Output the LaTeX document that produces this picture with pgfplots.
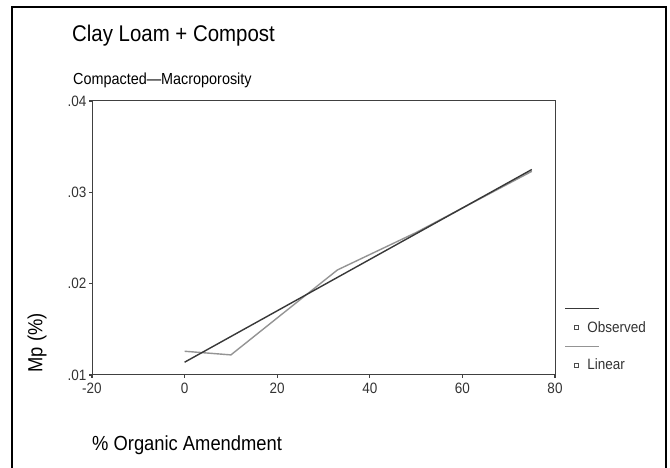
\documentclass[border=0pt]{standalone}
\usepackage{fontspec}
\setmainfont{Liberation Sans}[FakeStretch=0.9]
\usepackage{pgfplots}
\pgfplotsset{compat=1.18}
\definecolor{obsGray}{gray}{0.58}
\definecolor{fitDark}{gray}{0.22}
\definecolor{frameGray}{gray}{0.25}

\begin{document}
\begin{tikzpicture}[x=1pt,y=1pt]
    \path[use as bounding box, fill=white] (0,0) rectangle (670,468);
    % outer frame, open at the bottom
    \draw[line width=1.5pt] (12,-5) -- (12,461) -- (666,461) -- (666,-5);

    \node[anchor=base west, inner sep=0, font=\fontsize{22.7}{26}\selectfont] at (72,426) {Clay Loam + Compost};
    \node[anchor=base west, inner sep=0, font=\fontsize{16}{19}\selectfont] at (73,383) {Compacted---Macroporosity};
    \node[anchor=base west, inner sep=0, font=\fontsize{20.4}{24}\selectfont] at (92,17) {\% Organic Amendment};
    \node[rotate=90, inner sep=0, font=\fontsize{20.4}{24}\selectfont] at (37,125) {Mp (\%)};

    \begin{axis}[
        at={(92pt,93pt)}, anchor=south west,
        scale only axis,
        width=463pt, height=274pt,
        xmin=-20, xmax=80,
        ymin=0.01, ymax=0.04,
        xtick={-20,0,20,40,60,80},
        ytick={0.01,0.02,0.03,0.04},
        yticklabels={.01,.02,.03,.04},
        scaled y ticks=false,
        xtick pos=bottom, ytick pos=left,
        tick align=outside,
        major tick length=3pt,
        every tick/.style={frameGray, line width=1.3pt},
        axis line style={frameGray, line width=1pt},
        /pgf/number format/assume math mode=true,
        tick label style={font=\fontsize{15}{18}\selectfont, text=black!80},
        xticklabel style={yshift=-1pt},
        yticklabel style={xshift=1pt},
        legend style={at={(1.022,0.275)}, anchor=north west, draw=none, fill=none,
            inner sep=0pt, row sep=1.5pt,
            font=\fontsize{15}{18}\selectfont, text=black!80},
        legend cell align=left,
    ]
        % observed values
        \addplot[obsGray, line width=1.4pt, forget plot] coordinates {
            (0,0.0126) (10,0.0122) (33,0.0215) (50,0.0256) (75,0.0323)
        };
        % linear fit
        \addplot[fitDark, line width=1.4pt, forget plot] coordinates {
            (0,0.0114) (75,0.0325)
        };

        \addlegendimage{legend image code/.code={
            \path[draw=none, fill=none] (0pt,-1pt) rectangle (20pt,1pt);
            \draw[overlay, fitDark, line width=1.2pt] (0pt,0pt) -- (34pt,0pt);}}
        \addlegendentry{\strut}
        \addlegendimage{legend image code/.code={
            \path[draw=none, fill=none] (0pt,-1pt) rectangle (20pt,1pt);
            \draw[black!70, line width=0.6pt, fill=white] (9pt,-2pt) rectangle (13pt,2pt);}}
        \addlegendentry{Observed}
        \addlegendimage{legend image code/.code={
            \path[draw=none, fill=none] (0pt,-1pt) rectangle (20pt,1pt);
            \draw[overlay, obsGray, line width=1.2pt] (0pt,0pt) -- (34pt,0pt);}}
        \addlegendentry{\strut}
        \addlegendimage{legend image code/.code={
            \path[draw=none, fill=none] (0pt,-1pt) rectangle (20pt,1pt);
            \draw[black!70, line width=0.6pt, fill=white] (9pt,-2pt) rectangle (13pt,2pt);}}
        \addlegendentry{Linear}
    \end{axis}
\end{tikzpicture}
\end{document}
